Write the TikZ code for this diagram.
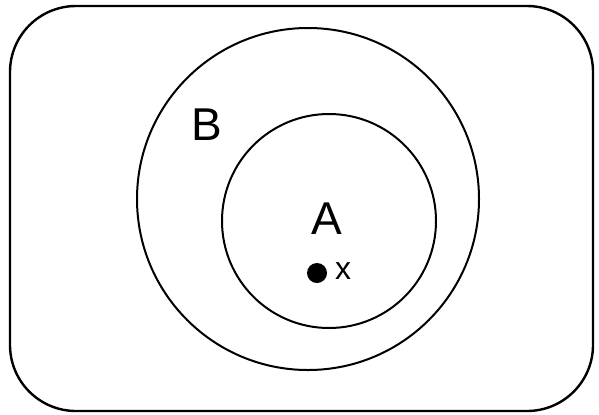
\documentclass[tikz,border=0pt]{standalone}
\usepackage{fontspec}
\setmainfont{Liberation Sans}
\usetikzlibrary{positioning}

\begin{document}
\begin{tikzpicture}[x=0.5pt,y=-0.5pt,line width=1pt,
  set/.style={circle,draw,inner sep=0pt},
  biglabel/.style={font=\fontsize{23}{25}\selectfont,inner sep=0pt}]
\useasboundingbox (0,0) rectangle (599,414);
\draw[rounded corners=33pt,line width=1.2pt] (10,6) rectangle (593,411);
\node[set,minimum size=171pt] (B) at (308,199) {};
\node[set,minimum size=107pt] (A) at (329,221) {};
\node[biglabel] (labB) at (207,125) {B};
\node[biglabel] (labA) at (327,219) {A};
\node[circle,fill,minimum size=10pt,inner sep=0pt] (x) at (317,273) {};
\node[font=\fontsize{16}{18}\selectfont,right=3pt of x,yshift=1pt,inner sep=0pt] (labx) {x};
\end{tikzpicture}
\end{document}
